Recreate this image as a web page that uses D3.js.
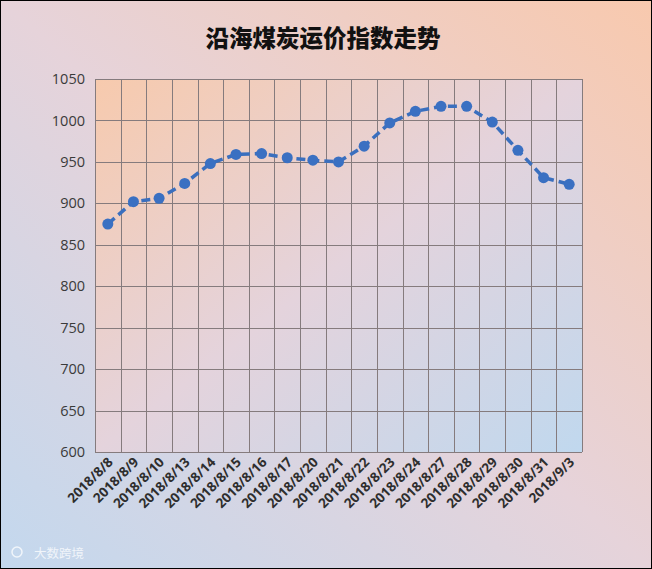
<!DOCTYPE html>
<html><head><meta charset="utf-8">
<script src="https://cdn.jsdelivr.net/npm/d3@7/dist/d3.min.js"></script>
<style>
html,body{margin:0;padding:0;}
svg{display:block;}
</style></head>
<body>
<svg id="chart" width="652" height="569"></svg>
<script>
const categories = ["2018/8/8","2018/8/9","2018/8/10","2018/8/13","2018/8/14","2018/8/15","2018/8/16","2018/8/17","2018/8/20","2018/8/21","2018/8/22","2018/8/23","2018/8/24","2018/8/27","2018/8/28","2018/8/29","2018/8/30","2018/8/31","2018/9/3"];
const values = [875, 902, 906, 924, 948, 959, 960, 955, 952, 950, 969, 997, 1011, 1017, 1017, 998, 964, 931, 923];
const yTicks = [600, 650, 700, 750, 800, 850, 900, 950, 1000, 1050];
const title = "沿海煤炭运价指数走势";
const watermark = "大数跨境";

const W = 652, H = 569;
const plot = {left: 95, right: 582, top: 79, bottom: 452};
const svg = d3.select("#chart");
const defs = svg.append("defs");

const bg = defs.append("linearGradient").attr("id","bg").attr("x1","0").attr("y1","1").attr("x2","1").attr("y2","0");
bg.append("stop").attr("offset","0").attr("stop-color","#c3d8ee");
bg.append("stop").attr("offset","0.5").attr("stop-color","#e6d3da");
bg.append("stop").attr("offset","1").attr("stop-color","#f8c9ae");

const pg = defs.append("linearGradient").attr("id","pg").attr("x1","0").attr("y1","0").attr("x2","1").attr("y2","1");
pg.append("stop").attr("offset","0").attr("stop-color","#f7caad");
pg.append("stop").attr("offset","0.5").attr("stop-color","#e4d3dc");
pg.append("stop").attr("offset","1").attr("stop-color","#c0d8ee");

svg.append("rect").attr("x",0.5).attr("y",0.5).attr("width",W-1).attr("height",H-1)
  .attr("fill","url(#bg)").attr("stroke","#000").attr("stroke-width",1);

const x = d3.scaleBand().domain(categories).range([plot.left, plot.right]).paddingInner(0).paddingOuter(0);
const y = d3.scaleLinear().domain([600,1050]).range([plot.bottom, plot.top]);

svg.append("rect").attr("x",plot.left).attr("y",plot.top)
  .attr("width",plot.right-plot.left).attr("height",plot.bottom-plot.top).attr("fill","url(#pg)");

const gridColor = "#857b7d";
svg.append("g").selectAll("line").data(yTicks).join("line")
  .attr("x1",plot.left).attr("x2",plot.right)
  .attr("y1",d=>Math.round(y(d))+0.5).attr("y2",d=>Math.round(y(d))+0.5)
  .attr("stroke",gridColor).attr("stroke-width",1);
const bounds = categories.map(c=>x(c)).concat([plot.right]);
svg.append("g").selectAll("line").data(bounds).join("line")
  .attr("x1",d=>Math.round(d)+0.5).attr("x2",d=>Math.round(d)+0.5)
  .attr("y1",plot.top).attr("y2",plot.bottom)
  .attr("stroke",gridColor).attr("stroke-width",1);

const yAxis = d3.axisLeft(y).tickValues(yTicks).tickFormat(d3.format("d")).tickSize(0).tickPadding(10);
const yg = svg.append("g").attr("transform",`translate(${plot.left},0)`).call(yAxis);
yg.select(".domain").remove();
yg.selectAll("text").attr("font-family","'Open Sans','Noto Sans',sans-serif").attr("font-size","14.5px").attr("fill","#3a3a3a");

const xAxis = d3.axisBottom(x).tickSize(0).tickPadding(0);
const xg = svg.append("g").attr("transform",`translate(0,${plot.bottom})`).call(xAxis);
xg.select(".domain").remove();
xg.selectAll("text")
  .attr("font-family","'Open Sans','Noto Sans',sans-serif").attr("font-size","13.5px").attr("font-weight","bold")
  .attr("fill","#2e2e2e")
  .attr("text-anchor","end").attr("dy","0")
  .attr("transform","translate(6,11) rotate(-45)");

const cx = d => x(d) + x.bandwidth()/2;
const line = d3.line().x((d,i)=>cx(categories[i])).y(d=>y(d));
svg.append("path").datum(values).attr("d",line)
  .attr("fill","none").attr("stroke","#3a6fbe").attr("stroke-width",3.5)
  .attr("stroke-dasharray","9,5").attr("stroke-linecap","butt");
svg.append("g").selectAll("circle").data(values).join("circle")
  .attr("cx",(d,i)=>cx(categories[i])).attr("cy",d=>y(d)).attr("r",5.5)
  .attr("fill","#3a70c2");

svg.append("text").attr("x",323).attr("y",47).attr("text-anchor","middle")
  .attr("font-family","'Noto Sans CJK SC',sans-serif").attr("font-weight","900").attr("font-size","23.5px")
  .attr("fill","#111").text(title);

svg.append("text").attr("x",34).attr("y",558)
  .attr("font-family","'Noto Sans CJK SC',sans-serif").attr("font-size","12.5px")
  .attr("fill","#ffffff").attr("fill-opacity",0.75).text(watermark);
svg.append("circle").attr("cx",17).attr("cy",552).attr("r",5).attr("fill","none")
  .attr("stroke","#ffffff").attr("stroke-opacity",0.75).attr("stroke-width",1.5);
</script>
</body></html>
